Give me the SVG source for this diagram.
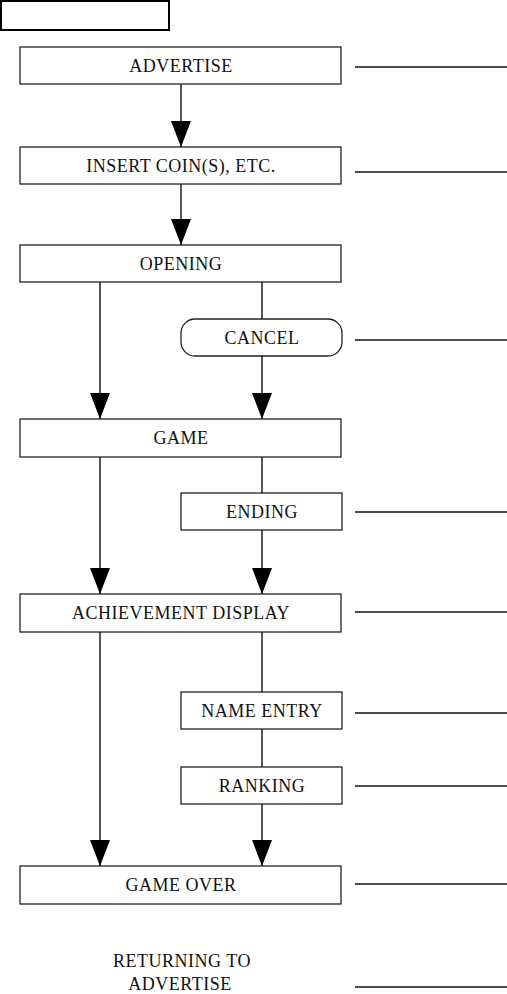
<svg xmlns="http://www.w3.org/2000/svg" width="507" height="994" viewBox="0 0 507 994">
<style>
.box{fill:#fff;stroke:#222;stroke-width:1.3}
.t{font-family:"Liberation Serif","Times New Roman",serif;font-size:18px;letter-spacing:0.5px;fill:#111;text-anchor:middle}
.c{stroke:#111;stroke-width:1.4;fill:none}
.r{stroke:#111;stroke-width:1.3}
</style>
<defs>
<marker id="ad" markerUnits="userSpaceOnUse" markerWidth="20" markerHeight="26" refX="10" refY="26" orient="0" viewBox="0 0 20 26">
<path d="M0,0 L20,0 L10,26 Z" fill="#000"/>
</marker>
</defs>
<rect x="1" y="1" width="168" height="29" fill="#fff" stroke="#000" stroke-width="2"/>
<g id="advertise"><rect class="box" x="20" y="47" width="321" height="37"/><text class="t" x="181" y="72">ADVERTISE</text></g>
<g id="insert"><rect class="box" x="20" y="147" width="321" height="37"/><text class="t" x="181" y="172">INSERT COIN(S), ETC.</text></g>
<g id="opening"><rect class="box" x="20" y="245" width="321" height="37"/><text class="t" x="181" y="270">OPENING</text></g>
<g id="cancel"><rect class="box" x="181" y="319" width="161" height="37" rx="14" ry="14"/><text class="t" x="262" y="344">CANCEL</text></g>
<g id="game"><rect class="box" x="20" y="419" width="321" height="38"/><text class="t" x="181" y="444">GAME</text></g>
<g id="ending"><rect class="box" x="181" y="493" width="161" height="37"/><text class="t" x="262" y="518">ENDING</text></g>
<g id="achievement"><rect class="box" x="20" y="594" width="321" height="38"/><text class="t" x="181" y="619">ACHIEVEMENT DISPLAY</text></g>
<g id="nameentry"><rect class="box" x="181" y="692" width="161" height="37"/><text class="t" x="262" y="717">NAME ENTRY</text></g>
<g id="ranking"><rect class="box" x="181" y="767" width="161" height="37"/><text class="t" x="262" y="792">RANKING</text></g>
<g id="gameover"><rect class="box" x="20" y="866" width="321" height="38"/><text class="t" x="181" y="891">GAME OVER</text></g>
<g id="returning"><text class="t" x="182" y="967">RETURNING TO</text><text class="t" x="180" y="990">ADVERTISE</text></g>
<g id="connectors">
<line class="c" x1="181" y1="84" x2="181" y2="147" marker-end="url(#ad)"/>
<line class="c" x1="181" y1="184" x2="181" y2="245" marker-end="url(#ad)"/>
<line class="c" x1="100" y1="282" x2="100" y2="419" marker-end="url(#ad)"/>
<line class="c" x1="262" y1="282" x2="262" y2="319"/>
<line class="c" x1="262" y1="356" x2="262" y2="419" marker-end="url(#ad)"/>
<line class="c" x1="100" y1="457" x2="100" y2="594" marker-end="url(#ad)"/>
<line class="c" x1="262" y1="457" x2="262" y2="493"/>
<line class="c" x1="262" y1="530" x2="262" y2="594" marker-end="url(#ad)"/>
<line class="c" x1="100" y1="632" x2="100" y2="866" marker-end="url(#ad)"/>
<line class="c" x1="262" y1="632" x2="262" y2="692"/>
<line class="c" x1="262" y1="729" x2="262" y2="767"/>
<line class="c" x1="262" y1="804" x2="262" y2="866" marker-end="url(#ad)"/>
</g>
<g id="leaders">
<line class="r" x1="355" y1="67" x2="507" y2="67"/>
<line class="r" x1="355" y1="172" x2="507" y2="172"/>
<line class="r" x1="355" y1="340" x2="507" y2="340"/>
<line class="r" x1="355" y1="512" x2="507" y2="512"/>
<line class="r" x1="355" y1="612" x2="507" y2="612"/>
<line class="r" x1="355" y1="713" x2="507" y2="713"/>
<line class="r" x1="355" y1="786" x2="507" y2="786"/>
<line class="r" x1="355" y1="884" x2="507" y2="884"/>
<line class="r" x1="355" y1="987" x2="507" y2="987"/>
</g>
</svg>
